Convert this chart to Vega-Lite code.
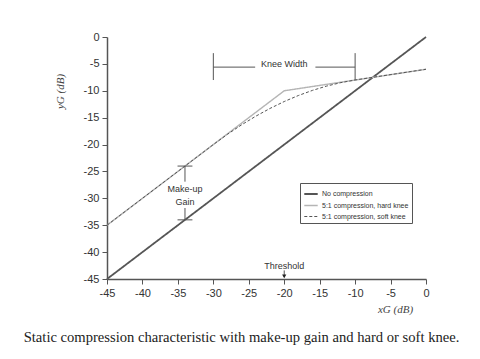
{
  "$schema": "https://vega.github.io/schema/vega-lite/v6.json",
  "width": 319,
  "height": 242,
  "autosize": "none",
  "padding": {"left": 107, "top": 37, "right": 54, "bottom": 80},
  "background": "white",
  "title": {
    "text": "Static compression characteristic with make-up gain and hard or soft knee.",
    "orient": "bottom",
    "anchor": "middle",
    "frame": "group",
    "dx": -25,
    "offset": 16,
    "font": "Liberation Serif",
    "fontSize": 14.6,
    "fontWeight": "normal",
    "color": "#222"
  },
  "config": {
    "view": {"stroke": null},
    "axis": {
      "grid": false,
      "domainColor": "#555",
      "domainWidth": 1.5,
      "tickColor": "#555",
      "tickWidth": 1,
      "tickSize": 5,
      "labelFont": "Liberation Sans",
      "labelFontSize": 11,
      "labelColor": "#333",
      "labelOverlap": false,
      "labelFlush": false,
      "labelExpr": "datum.value + ''",
      "titleFont": "Liberation Serif",
      "titleFontSize": 11,
      "titleFontWeight": "normal",
      "titleColor": "#444",
      "titleFontStyle": "italic"
    },
    "text": {"font": "Liberation Sans", "fontSize": 9, "color": "#333"}
  },
  "datasets": {
    "lines": [
      {"series": "No compression", "x": -45, "y": -45, "o": 1},
      {"series": "No compression", "x": 0, "y": 0, "o": 2},
      {"series": "5:1 compression, hard knee", "x": -45, "y": -35, "o": 1},
      {"series": "5:1 compression, hard knee", "x": -20, "y": -10, "o": 2},
      {"series": "5:1 compression, hard knee", "x": 0, "y": -6, "o": 3},
      {"series": "5:1 compression, soft knee", "x": -45, "y": -35, "o": 1},
      {"series": "5:1 compression, soft knee", "x": -30, "y": -20, "o": 2},
      {"series": "5:1 compression, soft knee", "x": -28, "y": -18.08, "o": 3},
      {"series": "5:1 compression, soft knee", "x": -26, "y": -16.32, "o": 4},
      {"series": "5:1 compression, soft knee", "x": -24, "y": -14.72, "o": 5},
      {"series": "5:1 compression, soft knee", "x": -22, "y": -13.28, "o": 6},
      {"series": "5:1 compression, soft knee", "x": -20, "y": -12, "o": 7},
      {"series": "5:1 compression, soft knee", "x": -18, "y": -10.88, "o": 8},
      {"series": "5:1 compression, soft knee", "x": -16, "y": -9.92, "o": 9},
      {"series": "5:1 compression, soft knee", "x": -14, "y": -9.12, "o": 10},
      {"series": "5:1 compression, soft knee", "x": -12, "y": -8.48, "o": 11},
      {"series": "5:1 compression, soft knee", "x": -10, "y": -8, "o": 12},
      {"series": "5:1 compression, soft knee", "x": 0, "y": -6, "o": 13}
    ],
    "segs": [
      {"x": -30, "x2": -24.1, "y": -5.6, "y2": -5.6},
      {"x": -15.6, "x2": -10, "y": -5.6, "y2": -5.6},
      {"x": -30, "x2": -30, "y": -3, "y2": -8},
      {"x": -10, "x2": -10, "y": -3, "y2": -8},
      {"x": -34, "x2": -34, "y": -24, "y2": -26.9},
      {"x": -34, "x2": -34, "y": -31.8, "y2": -34},
      {"x": -35.05, "x2": -32.95, "y": -24, "y2": -24},
      {"x": -35.05, "x2": -32.95, "y": -34, "y2": -34},
      {"x": -20, "x2": -20, "y": -43.4, "y2": -44.6}
    ],
    "labels": [
      {"x": -20, "y": -5.1, "t": "Knee Width"},
      {"x": -34, "y": -28.3, "t": "Make-up"},
      {"x": -34, "y": -30.6, "t": "Gain"},
      {"x": -20, "y": -42.6, "t": "Threshold"}
    ],
    "arrow": [{"x": -20, "y": -44.5}]
  },
  "layer": [
    {
      "data": {"name": "lines"},
      "mark": {"type": "line", "strokeCap": "butt"},
      "encoding": {
        "x": {
          "field": "x", "type": "quantitative",
          "scale": {"domain": [-45, 0], "nice": false, "zero": false},
          "axis": {"values": [-45, -40, -35, -30, -25, -20, -15, -10, -5, 0], "tickCount": 20, "title": "xG (dB)", "titleX": 288, "titleY": 30, "titleAlign": "center", "titleBaseline": "middle", "labelPadding": 3}
        },
        "y": {
          "field": "y", "type": "quantitative",
          "scale": {"domain": [-45, 0], "nice": false, "zero": false},
          "axis": {"values": [-45, -40, -35, -30, -25, -20, -15, -10, -5, 0], "tickCount": 20, "title": "yG (dB)", "titleX": -47, "titleY": 54, "titleAngle": 270, "titleAlign": "center", "titleBaseline": "middle", "labelPadding": 3}
        },
        "order": {"field": "o"},
        "color": {
          "field": "series", "type": "nominal",
          "scale": {"domain": ["No compression", "5:1 compression, hard knee", "5:1 compression, soft knee"], "range": ["#555555", "#b5b5b5", "#555555"]},
          "legend": {"title": null, "orient": "none", "legendX": 193, "legendY": 146, "strokeColor": "#555", "padding": 3, "labelFont": "Liberation Sans", "labelFontSize": 7, "labelColor": "#333", "symbolType": "stroke", "symbolSize": 180, "symbolStrokeWidth": 1, "rowPadding": -1, "labelOffset": 3, "symbolOffset": 0}
        },
        "strokeDash": {
          "field": "series", "type": "nominal",
          "scale": {"domain": ["No compression", "5:1 compression, hard knee", "5:1 compression, soft knee"], "range": [[1, 0], [1, 0], [3, 2]]},
          "legend": {"title": null, "orient": "none", "legendX": 193, "legendY": 146, "strokeColor": "#555", "padding": 3, "labelFont": "Liberation Sans", "labelFontSize": 7, "labelColor": "#333", "symbolType": "stroke", "symbolSize": 180, "symbolStrokeWidth": 1, "rowPadding": -1, "labelOffset": 3, "symbolOffset": 0}
        },
        "strokeWidth": {
          "field": "series", "type": "nominal",
          "scale": {"domain": ["No compression", "5:1 compression, hard knee", "5:1 compression, soft knee"], "range": [1.8, 1, 1]},
          "legend": null
        }
      }
    },
    {
      "data": {"name": "segs"},
      "mark": {"type": "rule", "color": "#555", "strokeWidth": 1},
      "encoding": {
        "x": {"field": "x", "type": "quantitative"},
        "x2": {"field": "x2"},
        "y": {"field": "y", "type": "quantitative"},
        "y2": {"field": "y2"}
      }
    },
    {
      "data": {"name": "arrow"},
      "mark": {"type": "point", "shape": "triangle-down", "filled": true, "color": "#222", "size": 18, "opacity": 1},
      "encoding": {
        "x": {"field": "x", "type": "quantitative"},
        "y": {"field": "y", "type": "quantitative"}
      }
    },
    {
      "data": {"name": "labels"},
      "mark": {"type": "text", "align": "center", "baseline": "middle"},
      "encoding": {
        "x": {"field": "x", "type": "quantitative"},
        "y": {"field": "y", "type": "quantitative"},
        "text": {"field": "t"}
      }
    }
  ]
}
